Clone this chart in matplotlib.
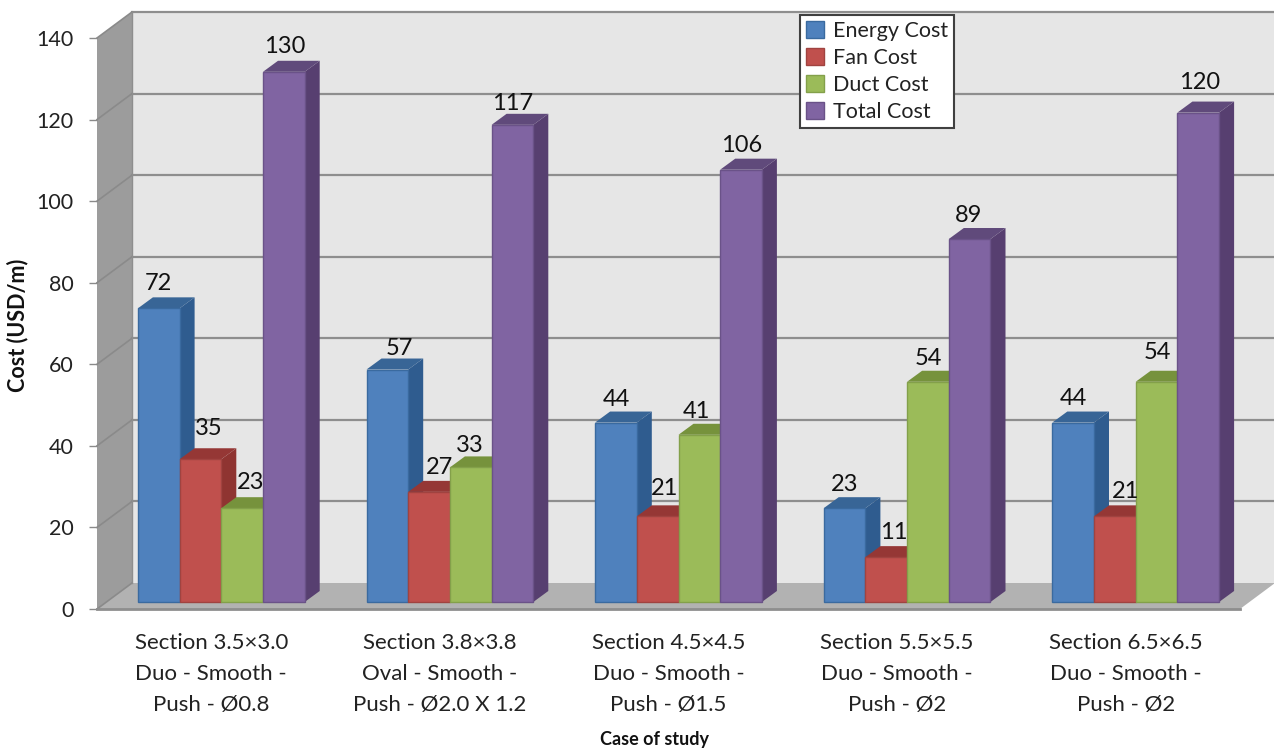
import matplotlib.pyplot as plt
from matplotlib.patches import Polygon
from matplotlib.transforms import Affine2D

plt.rcParams['font.family'] = ['Lato', 'DejaVu Sans']

cases = ['Section 3.5×3.0\nDuo - Smooth -\nPush - Ø0.8',
         'Section 3.8×3.8\nOval - Smooth -\nPush - Ø2.0 X 1.2',
         'Section 4.5×4.5\nDuo - Smooth -\nPush - Ø1.5',
         'Section 5.5×5.5\nDuo - Smooth -\nPush - Ø2',
         'Section 6.5×6.5\nDuo - Smooth -\nPush - Ø2']
energy_cost = [72, 57, 44, 23, 44]
fan_cost = [35, 27, 21, 11, 21]
duct_cost = [23, 33, 41, 54, 54]
total_cost = [130, 117, 106, 89, 120]
series_names = ['Energy Cost', 'Fan Cost', 'Duct Cost', 'Total Cost']
y_ticks = [0, 20, 40, 60, 80, 100, 120, 140]

# front, side and top shades of each series
front_colors = ['#4f81bd', '#c0504d', '#9bbb59', '#8064a2']
side_colors = ['#2f5c8f', '#8f3431', '#6f8a3a', '#573f70']
top_colors = ['#386596', '#953735', '#76923c', '#604a7b']
edge_colors = ['#3a6a9f', '#a04340', '#83a04a', '#6a5288']

# hand placed value labels, nudges in pixels per series and case
label_dx = [[0, 12, 0, 0, 0], [8, 10, 7, 8, 11], [8, -1, -3, 0, 1], [1, 0, 1, -1, 1]]
label_dy = [[25, 21, 23, 24, 24], [31, 24, 28, 25, 25], [26, 22, 23, 23, 29], [25, 21, 24, 24, 30]]

W, H = 1274, 751
fig = plt.figure(figsize=(W / 100, H / 100), dpi=100)
ax = fig.add_axes([97 / W, 1 - 609 / H, 1143 / W, 571 / H])
ax.set_xlim(-0.5, 4.5)
ax.set_ylim(0, 140)
ax.patch.set_visible(False)
for spine in ax.spines.values():
    spine.set_visible(False)

px_x = 5 / 1143  # data units per pixel
px_y = 140 / 571
wall_dx, wall_dy = 35 * px_x, 26 * px_y
bar_w = 41.7 * px_x
bar_dx, bar_dy = 15 * px_x, 11 * px_y
# bars stand in the middle of the floor, not on its front edge
shift = ax.transData + Affine2D().translate(10, 7)


def face(points, color, z, edge='none', trans=None):
    ax.add_patch(Polygon(points, closed=True, facecolor=color, edgecolor=edge, linewidth=1,
                         zorder=z, clip_on=False, transform=trans or ax.transData))


# walls and floor
face([(-0.5, 0), (-0.5 + wall_dx, wall_dy), (-0.5 + wall_dx, 140 + wall_dy), (-0.5, 140)], '#9c9c9c', 1)
face([(-0.5 + wall_dx, wall_dy), (4.5 + wall_dx, wall_dy), (4.5 + wall_dx, 140 + wall_dy),
      (-0.5 + wall_dx, 140 + wall_dy)], '#e6e6e6', 1)
face([(-0.5, 0), (4.5, 0), (4.5 + wall_dx, wall_dy), (-0.5 + wall_dx, wall_dy)], '#b2b2b2', 1)

for v in y_ticks:
    if v > 0:
        ax.plot([-0.5 + wall_dx, 4.5 + wall_dx], [v + wall_dy, v + wall_dy], color='#8e8e8e', lw=1.6,
                zorder=2, clip_on=False)
    ax.plot([-0.5, -0.5 + wall_dx], [v, v + wall_dy], color='#8a8a8a', lw=1.2, zorder=2, clip_on=False)
ax.plot([-0.5, 4.5], [0, 0], color='#8e8e8e', lw=2, zorder=2, clip_on=False)
ax.plot([-0.5 + wall_dx] * 2, [wall_dy, 140 + wall_dy], color='#8e8e8e', lw=1, zorder=2, clip_on=False)

series = [energy_cost, fan_cost, duct_cost, total_cost]
for s, values in enumerate(series):
    z = 3 + s
    for i, v in enumerate(values):
        x0 = i + (s - 2) * bar_w
        x1 = x0 + bar_w
        face([(x1, 0), (x1 + bar_dx, bar_dy), (x1 + bar_dx, v + bar_dy), (x1, v)], side_colors[s], z, trans=shift)
        face([(x0, v), (x1, v), (x1 + bar_dx, v + bar_dy), (x0 + bar_dx, v + bar_dy)], top_colors[s], z, trans=shift)
    ax.bar([i + (s - 1.5) * bar_w for i in range(5)], values, bar_w, color=front_colors[s],
           edgecolor=edge_colors[s], linewidth=1, zorder=z + 0.5, transform=shift,
           label=series_names[s], clip_on=False)

for s, values in enumerate(series):
    for i, v in enumerate(values):
        offset = shift + Affine2D().translate(label_dx[s][i], label_dy[s][i])
        ax.text(i + (s - 1.5) * bar_w, v, str(v), transform=offset, ha='center', va='center',
                fontsize=17, color='#111111', zorder=10)

ax.set_xticks(range(5))
ax.set_xticklabels(cases, fontsize=16, color='#222222', linespacing=1.7)
ax.set_yticks(y_ticks)
ax.tick_params(axis='x', length=0, pad=17)
ax.tick_params(axis='y', length=6, width=1, color='#8a8a8a', labelsize=15.5, labelcolor='#222222', pad=11)

fig.text(654 / W, 1 - 739 / H, 'Case of study', ha='center', va='center', fontsize=13, fontweight='bold', color='#111111')
fig.text(18 / W, 1 - 325 / H, 'Cost (USD/m)', ha='center', va='center', rotation=90, fontsize=15.5,
         fontweight='bold', color='#111111')

legend = ax.legend(loc='upper left', bbox_to_anchor=(800 / W, 1 - 15 / H), bbox_transform=fig.transFigure,
                   borderaxespad=0, fancybox=False, framealpha=1, edgecolor='#404040', fontsize=15.5,
                   handlelength=0.85, handleheight=0.85, handletextpad=0.4, labelspacing=0.33, borderpad=0.27)
legend.get_frame().set_linewidth(1.5)
legend.set_zorder(20)
for text in legend.get_texts():
    text.set_color('#222222')

fig.savefig('out.png', dpi=100)
